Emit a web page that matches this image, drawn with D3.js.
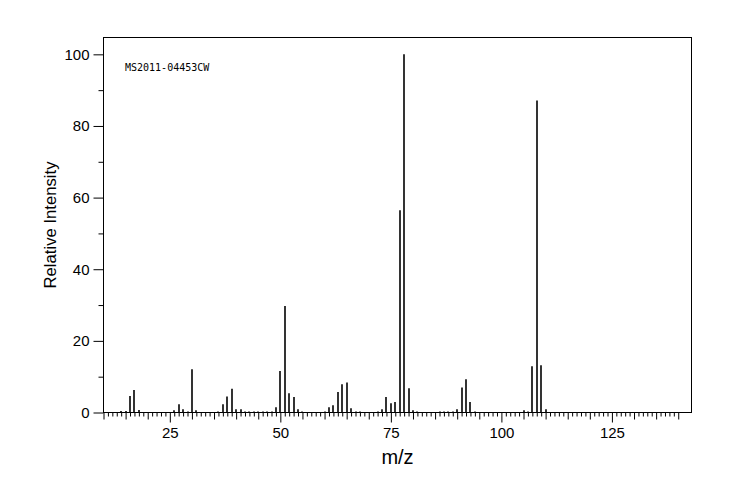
<!DOCTYPE html>
<html>
<head>
<meta charset="utf-8">
<script src="https://cdn.jsdelivr.net/npm/d3@7"></script>
<style>
  html, body { margin: 0; padding: 0; background: #fff; }
  svg { display: block; }
</style>
</head>
<body>
<svg id="chart" width="744" height="500"></svg>
<script>
// m/z values and relative intensities
const mzValues = [14, 15, 16, 17, 18, 26, 27, 28, 29, 30, 31, 36, 37, 38, 39, 40, 41, 42, 43, 44, 45, 46, 47, 48, 49,
  50, 51, 52, 53, 54, 55, 60, 61, 62, 63, 64, 65, 66, 67, 68, 72, 73, 74, 75, 76, 77, 78, 79, 80, 81,
  86, 87, 88, 89, 90, 91, 92, 93, 94, 105, 106, 107, 108, 109, 110];
const intensities = [0.4, 0.4, 4.6, 6.3, 0.7, 0.6, 2.3, 0.9, 0.3, 12.1, 0.6, 0.3, 2.3, 4.5, 6.6, 0.9, 0.9, 0.3, 0.3, 0.3, 0.3, 0.3, 0.3, 0.3, 1.5,
  11.6, 29.7, 5.4, 4.3, 0.9, 0.3, 0.3, 1.5, 2.0, 5.7, 7.9, 8.4, 1.2, 0.3, 0.3, 0.3, 0.9, 4.3, 2.6, 2.9, 56.5, 100, 6.8, 0.6, 0.3,
  0.3, 0.3, 0.3, 0.3, 0.9, 7.0, 9.3, 2.9, 0.3, 0.6, 0.3, 12.9, 87.1, 13.2, 0.9];
const xMajorTicks = [25, 50, 75, 100, 125];
const yMajorTicks = [0, 20, 40, 60, 80, 100];
const yMinorTicks = [10, 30, 50, 70, 90];
const xDomain = [10, 143];
const yDomain = [0, 104.7];
const sampleId = "MS2011-04453CW";
const xTitle = "m/z";
const yTitle = "Relative Intensity";

const data = mzValues.map((m, i) => ({ mz: m, v: intensities[i] }));

const svg = d3.select("#chart");
svg.append("rect").attr("width", 744).attr("height", 500).attr("fill", "#fff");

const pLeft = 103.5, pRight = 691.5, pTop = 37.5, pBottom = 412.5;
const x = d3.scaleLinear().domain(xDomain).range([pLeft, pRight]);
const y = d3.scaleLinear().domain(yDomain).range([pBottom, pTop]);

const FONT = "'Liberation Sans', Arial, sans-serif";

function styleAxis(g) {
  g.select(".domain").remove();
  g.selectAll(".tick line").attr("stroke", "#000").attr("stroke-width", 1);
  g.selectAll("text").attr("fill", "#000").style("font-family", FONT).style("font-size", "15px");
}

// x minor ticks (every unit)
const xMinor = d3.range(10, 141).filter(d => d % 5 !== 0);
const xMed = d3.range(10, 141, 5).filter(d => d % 25 !== 0);
svg.append("g").attr("transform", `translate(0,${pBottom})`)
  .call(d3.axisBottom(x).tickValues(xMinor).tickSize(4).tickFormat(""))
  .call(styleAxis);
svg.append("g").attr("transform", `translate(0,${pBottom})`)
  .call(d3.axisBottom(x).tickValues(xMed).tickSize(7).tickFormat(""))
  .call(styleAxis);
svg.append("g").attr("transform", `translate(0,${pBottom})`)
  .call(d3.axisBottom(x).tickValues(xMajorTicks).tickSize(10).tickPadding(5).tickFormat(d3.format("d")))
  .call(styleAxis);

// y ticks
svg.append("g").attr("transform", `translate(${pLeft},0)`)
  .call(d3.axisLeft(y).tickValues(yMinorTicks).tickSize(5).tickFormat(""))
  .call(styleAxis);
svg.append("g").attr("transform", `translate(${pLeft},0)`)
  .call(d3.axisLeft(y).tickValues(yMajorTicks).tickSize(10).tickPadding(4).tickFormat(d3.format("d")))
  .call(styleAxis);

// bars (stick spectrum)
svg.append("g").selectAll("line").data(data).join("line")
  .attr("x1", d => Math.round(x(d.mz)))
  .attr("x2", d => Math.round(x(d.mz)))
  .attr("y1", y(0))
  .attr("y2", d => y(d.v))
  .attr("stroke", "#000")
  .attr("stroke-width", 1.6);

// frame
svg.append("rect")
  .attr("x", pLeft).attr("y", pTop)
  .attr("width", pRight - pLeft).attr("height", pBottom - pTop)
  .attr("fill", "none").attr("stroke", "#000").attr("stroke-width", 1);

// sample id
svg.append("text").attr("x", 125).attr("y", 71)
  .style("font-family", "'DejaVu Sans Mono', monospace").style("font-size", "10px")
  .attr("fill", "#000").text(sampleId);

// axis titles
svg.append("text").attr("x", (pLeft + pRight) / 2).attr("y", 464)
  .attr("text-anchor", "middle")
  .style("font-family", FONT).style("font-size", "20px")
  .attr("fill", "#000").text(xTitle);

svg.append("text")
  .attr("transform", `translate(56,${(pTop + pBottom) / 2}) rotate(-90)`)
  .attr("text-anchor", "middle")
  .style("font-family", FONT).style("font-size", "16.7px")
  .attr("fill", "#000").text(yTitle);
</script>
</body>
</html>
